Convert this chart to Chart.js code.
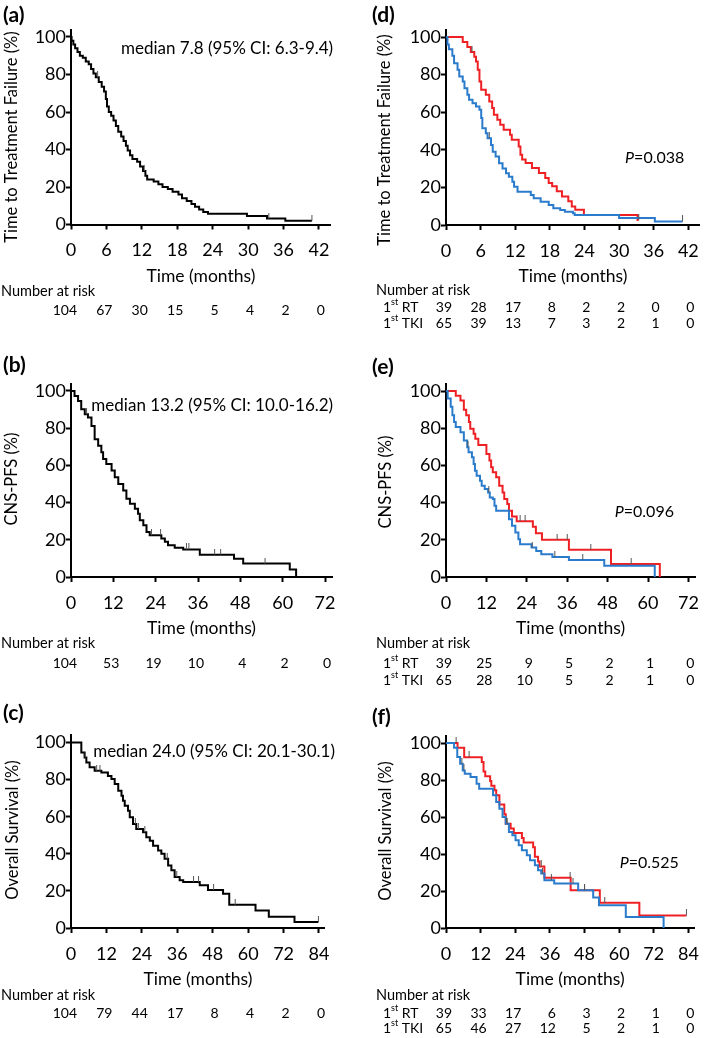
<!DOCTYPE html>
<html>
<head>
<meta charset="utf-8">
<script src="https://cdn.jsdelivr.net/npm/chart.js@4.4.1/dist/chart.umd.min.js"></script>
<style>
  body { margin: 0; background: #fff; width: 709px; height: 1038px; position: relative; overflow: hidden; }
  .panel { position: absolute; }
</style>
</head>
<body>
<div class="panel" style="left:0;top:0"><canvas id="pa" width="355" height="335"></canvas></div>
<div class="panel" style="left:355px;top:0"><canvas id="pd" width="354" height="335"></canvas></div>
<div class="panel" style="left:0;top:335px"><canvas id="pb" width="355" height="350"></canvas></div>
<div class="panel" style="left:355px;top:335px"><canvas id="pe" width="354" height="350"></canvas></div>
<div class="panel" style="left:0;top:685px"><canvas id="pc" width="355" height="353"></canvas></div>
<div class="panel" style="left:355px;top:685px"><canvas id="pf" width="354" height="353"></canvas></div>
<script>
const RED = "#ee2024";
const BLUE = "#2a7bcb";

const yTicks = [0, 20, 40, 60, 80, 100];
const ticks42 = [0, 6, 12, 18, 24, 30, 36, 42];
const ticks72 = [0, 12, 24, 36, 48, 60, 72];
const ticks84 = [0, 12, 24, 36, 48, 60, 72, 84];

// (a) time to treatment failure, all patients
const ttfTime = [0, 0.1, 0.4, 0.7, 1.1, 1.5, 2.0, 2.5, 3.0, 3.4, 3.8, 4.2, 4.7, 5.2, 5.6, 5.9, 6.1, 6.4, 6.8, 7.2, 7.6, 8.0, 8.5, 8.9, 9.3, 9.6, 10.0, 10.4, 11.2, 11.7, 12.2, 12.6, 12.9, 14.0, 14.8, 15.5, 16.4, 17.2, 18.2, 18.8, 19.6, 20.4, 21.0, 21.7, 22.4, 23.2, 29.8, 33.2, 36.3, 40.8];
const ttfSurv = [100, 98, 96, 94, 92, 90, 89, 87, 85.5, 83, 80.5, 78.5, 76, 73.5, 71, 67, 63, 60, 58, 55.5, 52.5, 49.5, 47, 44.5, 42, 39.5, 37, 35, 33.5, 31, 28.5, 26, 24, 23, 21.5, 20, 19, 17.5, 16, 14, 12.5, 11, 9.5, 8, 6.7, 5.7, 4.5, 3.2, 2, 2];
const ttfCensTime = [4.5, 12.4, 33.5, 40.8];
const ttfCensSurv = [78.5, 28.5, 3.2, 2];
const ttfRisk = [104, 67, 30, 15, 5, 4, 2, 0];

// (d) time to treatment failure by first treatment
const ttfRtTime = [0, 2.9, 3.7, 4.3, 4.9, 5.2, 5.5, 5.8, 6.1, 6.9, 7.5, 8.0, 8.3, 8.9, 9.4, 10.0, 11.1, 11.4, 12.6, 12.9, 13.2, 13.8, 14.9, 16.1, 17.2, 17.8, 18.4, 19.2, 20.1, 21.2, 21.8, 22.4, 23.9, 33.2, 33.4];
const ttfRtSurv = [100, 97.4, 94.7, 92, 89.5, 87, 82.6, 76.4, 71.9, 69.3, 65.7, 62.2, 58.6, 56, 53.3, 50.7, 48, 45.4, 41.8, 37.4, 34.8, 33, 30.3, 27.7, 25, 22.3, 20.6, 17.9, 15.2, 12.6, 9.9, 8.1, 5.3, 2.6, 2.6];
const ttfTkiTime = [0, 0.26, 0.5, 1.1, 1.4, 2.0, 2.3, 2.9, 3.2, 3.7, 4.0, 4.6, 5.2, 5.8, 6.1, 6.3, 6.9, 7.2, 7.8, 8.1, 8.6, 9.2, 9.8, 10.4, 10.9, 11.5, 11.8, 12.4, 14.7, 15.2, 16.4, 17.8, 18.6, 19.8, 20.6, 22.0, 22.3, 30.0, 36.2, 41.0];
const ttfTkiSurv = [100, 96, 93.5, 90, 86, 82.6, 79, 76.4, 72.8, 69.3, 66.6, 64.8, 63, 61.3, 56.9, 51.5, 48.8, 46.2, 42.6, 39, 36.4, 32.8, 30.1, 27.5, 25.7, 23, 20.4, 17.7, 15.9, 14.2, 12.4, 10.6, 8.9, 8, 7.1, 6.2, 5.3, 3.7, 1.9, 1.9];
const ttfRtCensTime = [4.5, 33.4];
const ttfRtCensSurv = [92, 2.6];
const ttfTkiCensTime = [7.5, 41.0];
const ttfTkiCensSurv = [46.2, 1.9];
const ttfRtRisk = [39, 28, 17, 8, 2, 2, 0, 0];
const ttfTkiRisk = [65, 39, 13, 7, 3, 2, 1, 0];

// (b) CNS-PFS, all patients
const pfsTime = [0, 1.0, 2.0, 2.9, 3.9, 4.8, 5.8, 6.7, 7.7, 8.6, 9.1, 10.0, 11.5, 12.4, 13.4, 14.8, 15.7, 16.7, 18.1, 19.0, 19.5, 20.5, 21.4, 22.3, 25.6, 26.6, 27.5, 29.4, 31.8, 36.5, 46.2, 48.8, 62.0, 63.8];
const pfsSurv = [100, 97.3, 94.6, 90.2, 87.5, 85.7, 81.2, 74, 70.5, 67, 63.4, 60.7, 57.2, 53.6, 50, 46.5, 42, 39.4, 36.7, 34, 30.5, 27.8, 24.2, 22.5, 20.7, 18.9, 17.1, 15.7, 14.8, 12, 9.8, 7.2, 4, 0];
const pfsCensTime = [4.4, 22.8, 25.4, 32.7, 33.4, 40.7, 42.4, 55.0];
const pfsCensSurv = [87.5, 22.5, 22.5, 14.8, 14.8, 12, 12, 7.2];
const pfsRisk = [104, 53, 19, 10, 4, 2, 0];

// (e) CNS-PFS by first treatment
const pfsRtTime = [0, 2.9, 4.3, 5.3, 6.0, 6.8, 7.2, 8.2, 8.7, 9.6, 12.0, 12.9, 13.4, 13.9, 14.9, 15.8, 16.8, 17.3, 18.2, 18.7, 19.6, 21.0, 25.8, 26.7, 28.5, 36.5, 49.0, 63.5];
const pfsRtSurv = [100, 97.4, 94.9, 90, 87, 83.3, 79.7, 77, 74.3, 71, 66.2, 62.6, 59, 56.3, 53.6, 49.1, 45.5, 41.9, 39.2, 35.6, 32.5, 30, 27, 23.5, 20, 14.7, 7, 0];
const pfsTkiTime = [0, 0.5, 1.4, 1.9, 2.4, 2.9, 4.3, 5.3, 6.3, 6.7, 7.7, 8.2, 8.6, 9.1, 10.1, 10.6, 11.5, 12.5, 13.0, 13.9, 14.4, 14.9, 18.7, 19.6, 20.6, 21.5, 22.0, 25.4, 26.8, 28.3, 31.6, 36.5, 47.0, 62.0];
const pfsTkiSurv = [100, 96, 91.5, 87, 83.3, 80.6, 77.9, 73.4, 69.8, 67.1, 64.4, 60.8, 57.2, 54.5, 51.8, 49.1, 47.3, 45.5, 42.8, 41.9, 38.3, 35.6, 31.1, 27.5, 23.9, 20.3, 17.6, 15.8, 14, 12.2, 10.8, 9.2, 6, 0];
const pfsRtCensTime = [22.0, 23.5, 33.0, 36.0, 43.0, 55.0];
const pfsRtCensSurv = [30, 30, 20, 20, 14.7, 7];
const pfsTkiCensTime = [6.5, 12.7, 25.6, 32.3, 40.6];
const pfsTkiCensSurv = [69.8, 45.5, 15.8, 10.8, 9.2];
const pfsRtRisk = [39, 25, 9, 5, 2, 1, 0];
const pfsTkiRisk = [65, 28, 10, 5, 2, 1, 0];

// (c) overall survival, all patients
const osTime = [0, 3.5, 4.6, 5.2, 6.3, 8.0, 10.3, 12.5, 13.7, 14.8, 16.0, 17.1, 17.6, 18.2, 19.3, 19.9, 21.0, 22.1, 24.4, 25.5, 26.7, 27.8, 29.5, 30.6, 31.7, 32.9, 34.0, 35.1, 36.8, 38.0, 43.6, 46.4, 51.5, 53.6, 62.5, 67.0, 75.7, 83.8];
const osSurv = [100, 94.6, 91.9, 89.2, 86.6, 84.8, 83.9, 82, 80.3, 77.6, 74, 71.3, 68.6, 65.9, 63.2, 59.7, 56.1, 53.4, 51.6, 48.9, 47.1, 44.4, 41.8, 40, 37.3, 33.7, 31.1, 27.5, 25.7, 24.8, 23, 20.5, 18.5, 12.5, 9.5, 6, 3.2, 3.2];
const osCensTime = [4.8, 8.7, 9.8, 21.8, 22.8, 25.0, 32.6, 35.8, 41.5, 43.2, 48.3, 55.6, 83.8];
const osCensSurv = [91.9, 84.8, 84.8, 56.1, 53.4, 51.6, 37.3, 27.5, 24.8, 24.8, 20.5, 12.5, 3.2];
const osRisk = [104, 79, 44, 17, 8, 4, 2, 0];

// (f) overall survival by first treatment
const osRtTime = [0, 4.0, 6.3, 12.4, 13.0, 13.6, 15.3, 15.7, 16.8, 17.4, 18.5, 20.2, 20.7, 22.4, 23.5, 26.3, 26.9, 30.2, 30.8, 31.9, 32.4, 34.1, 43.2, 53.3, 67.0, 83.3];
const osRtSurv = [100, 97.4, 92.3, 89.7, 84.6, 82, 79.5, 76.9, 74.4, 71.8, 66.7, 61.5, 56.4, 53.8, 51.3, 48.7, 46.2, 43.6, 38.5, 35.9, 33.3, 27.2, 20.4, 13.6, 6.8, 6.8];
const osTkiTime = [0, 2.8, 3.9, 4.9, 5.8, 6.5, 8.5, 10.6, 11.5, 16.3, 17.4, 18.5, 19.6, 20.7, 21.8, 23.0, 24.1, 25.2, 26.3, 28.0, 29.1, 30.8, 31.9, 33.0, 34.1, 37.5, 45.8, 51.0, 53.0, 62.3, 75.4];
const osTkiSurv = [100, 97.5, 92.4, 88.8, 85.2, 83.4, 81.6, 78, 75.3, 71.7, 68.1, 64.5, 60, 56.4, 51.9, 50.1, 47.4, 44.7, 42, 39.3, 36.6, 33.9, 31.2, 29.4, 25.8, 24, 20.4, 16.5, 12.3, 6, 0];
const osRtCensTime = [3.5, 8.0, 21.0, 33.0, 43.0, 48.0, 55.0, 83.3];
const osRtCensSurv = [100, 92.3, 56.4, 33.3, 27.2, 20.4, 13.6, 6.8];
const osTkiCensTime = [5.5, 6.2, 21.2, 33.4, 36.5, 44.0, 48.0];
const osTkiCensSurv = [88.8, 85.2, 56.4, 29.4, 25.8, 24, 20.4];
const osRtRisk = [39, 33, 17, 6, 3, 2, 1, 0];
const osTkiRisk = [65, 46, 27, 12, 5, 2, 1, 0];

const TTF_TITLE = "Time to Treatment Failure (%)";
const PFS_TITLE = "CNS-PFS (%)";
const OS_TITLE = "Overall Survival (%)";

Chart.defaults.font.family = "Lato";
Chart.defaults.color = "#000";

// censor mark: short vertical stroke sitting on top of the curve
const censorMark = document.createElement("canvas");
censorMark.width = 3;
censorMark.height = 12;
const cm = censorMark.getContext("2d");
cm.fillStyle = "#555";
cm.fillRect(1, 0, 1, 6);

function toPoints(ts, ss) {
  return ts.map((t, i) => ({ x: t, y: ss[i] }));
}

function textPlugin(p) {
  return {
    id: "panelText",
    afterDraw(chart) {
      const ctx = chart.ctx;
      const xs = chart.scales.x;
      const ys = chart.scales.y;
      const base = chart.chartArea.bottom;
      ctx.save();
      ctx.fillStyle = "#000";
      ctx.textBaseline = "middle";

      ctx.font = "bold 21px Lato";
      ctx.textAlign = "left";
      ctx.fillText(p.letter, p.letterX, p.letterY);

      // y axis title
      ctx.save();
      ctx.translate(p.yTitleX, p.yTitleY);
      ctx.rotate(-Math.PI / 2);
      ctx.font = "16.5px Lato";
      ctx.textAlign = "center";
      ctx.fillText(p.yTitle, 0, 0);
      ctx.restore();

      const nx = xs.getPixelForValue(p.noteX);
      const ny = ys.getPixelForValue(p.noteY);
      if (p.pValue) {
        ctx.font = "16px Lato";
        const rest = "=" + p.pValue;
        const wRest = ctx.measureText(rest).width;
        ctx.font = "italic 16px Lato";
        const wP = ctx.measureText("P").width;
        ctx.textAlign = "left";
        ctx.fillText("P", nx - wRest - wP, ny);
        ctx.font = "16px Lato";
        ctx.fillText(rest, nx - wRest, ny);
      } else {
        ctx.font = "17px Lato";
        ctx.textAlign = "right";
        ctx.fillText(p.note, nx, ny);
      }

      // number at risk table
      ctx.font = "14.5px Lato";
      ctx.textAlign = "left";
      ctx.fillText("Number at risk", p.nrX, base + p.rowY[0]);
      p.rows.forEach((row, i) => {
        const y = base + p.rowY[i + 1];
        if (row.label) {
          ctx.textAlign = "left";
          ctx.font = "14px Lato";
          ctx.fillText("1", p.labelX, y);
          let w = ctx.measureText("1").width;
          ctx.font = "9px Lato";
          ctx.fillText("st", p.labelX + w, y - 5);
          w += ctx.measureText("st").width;
          ctx.font = "14px Lato";
          ctx.fillText(" " + row.label, p.labelX + w, y);
        }
        ctx.font = "14px Lato";
        ctx.textAlign = "right";
        row.values.forEach((v, j) => {
          ctx.fillText(String(v), xs.getPixelForValue(p.xTicks[j]) + 6, y);
        });
      });
      ctx.restore();
    },
  };
}

function drawPanel(id, p) {
  const canvas = document.getElementById(id);
  const W = canvas.width;
  const H = canvas.height;
  const xAxisH = 62;
  const datasets = [];

  p.censors.forEach((c) => {
    datasets.push({
      data: toPoints(c.t, c.s),
      showLine: false,
      pointStyle: censorMark,
      pointRadius: 4,
    });
  });
  p.curves.forEach((c) => {
    datasets.push({
      data: toPoints(c.t, c.s),
      showLine: true,
      stepped: "before",
      borderColor: c.color,
      borderWidth: 2,
      pointRadius: 0,
      fill: false,
    });
  });

  new Chart(canvas, {
    type: "scatter",
    data: { datasets: datasets },
    options: {
      responsive: false,
      animation: false,
      devicePixelRatio: 1,
      layout: {
        padding: {
          left: p.padLeft,
          top: p.area.top,
          right: W - p.area.right,
          bottom: H - p.area.bottom - xAxisH,
        },
      },
      plugins: { legend: { display: false }, tooltip: { enabled: false } },
      scales: {
        x: {
          type: "linear",
          min: 0,
          max: p.xMax,
          afterBuildTicks: (ax) => { ax.ticks = p.xTicks.map((v) => ({ value: v })); },
          afterFit: (ax) => { ax.height = xAxisH; },
          border: { color: "#000", width: 2 },
          grid: { drawOnChartArea: false, drawTicks: true, tickLength: 5, tickWidth: 2, tickColor: "#000" },
          ticks: { color: "#000", font: { size: 18 }, padding: 10, maxRotation: 0, autoSkip: false },
          title: { display: true, text: "Time (months)", color: "#000", font: { size: 17.5 }, padding: 0 },
        },
        y: {
          type: "linear",
          min: 0,
          max: 104,
          afterBuildTicks: (ax) => { ax.ticks = yTicks.map((v) => ({ value: v })); },
          afterFit: (ax) => { ax.width = p.area.left - p.padLeft; },
          border: { color: "#000", width: 2 },
          grid: { drawOnChartArea: false, drawTicks: true, tickLength: 5, tickWidth: 2, tickColor: "#000" },
          ticks: { color: "#000", font: { size: 18 }, padding: 0 },
          title: { display: false },
        },
      },
    },
    plugins: [textPlugin(p)],
  });
}

drawPanel("pa", {
  area: { left: 71, right: 330.8, top: 29.5, bottom: 224.5 }, padLeft: 2,
  xMax: 44, xTicks: ticks42, yTitle: TTF_TITLE, yTitleX: 12, yTitleY: 137,
  curves: [{ t: ttfTime, s: ttfSurv, color: "#000" }],
  censors: [{ t: ttfCensTime, s: ttfCensSurv }],
  letter: "(a)", letterX: 3, letterY: 15,
  note: "median 7.8 (95% CI: 6.3-9.4)", noteX: 44.4, noteY: 94,
  nrX: 1, rowY: [66.5, 85.5], rows: [{ values: ttfRisk }],
});

drawPanel("pd", {
  area: { left: 91, right: 348.7, top: 29.5, bottom: 225 }, padLeft: 21,
  xMax: 44, xTicks: ticks42, yTitle: TTF_TITLE, yTitleX: 30, yTitleY: 140,
  curves: [{ t: ttfTkiTime, s: ttfTkiSurv, color: BLUE }, { t: ttfRtTime, s: ttfRtSurv, color: RED }],
  censors: [{ t: ttfRtCensTime, s: ttfRtCensSurv }, { t: ttfTkiCensTime, s: ttfTkiCensSurv }],
  letter: "(d)", letterX: 17, letterY: 15,
  pValue: "0.038", noteX: 41.3, noteY: 35.6,
  nrX: 21, labelX: 28, rowY: [65, 82, 98],
  rows: [{ label: "RT", values: ttfRtRisk }, { label: "TKI", values: ttfTkiRisk }],
});

drawPanel("pb", {
  area: { left: 71, right: 332.1, top: 48.5, bottom: 242 }, padLeft: 2,
  xMax: 74, xTicks: ticks72, yTitle: PFS_TITLE, yTitleX: 12, yTitleY: 144,
  curves: [{ t: pfsTime, s: pfsSurv, color: "#000" }],
  censors: [{ t: pfsCensTime, s: pfsCensSurv }],
  letter: "(b)", letterX: 3, letterY: 30,
  note: "median 13.2 (95% CI: 10.0-16.2)", noteX: 74.3, noteY: 92,
  nrX: 1, rowY: [66, 86], rows: [{ values: pfsRisk }],
});

drawPanel("pe", {
  area: { left: 91, right: 350, top: 48.6, bottom: 242 }, padLeft: 21,
  xMax: 74, xTicks: ticks72, yTitle: PFS_TITLE, yTitleX: 31, yTitleY: 147,
  curves: [{ t: pfsTkiTime, s: pfsTkiSurv, color: BLUE }, { t: pfsRtTime, s: pfsRtSurv, color: RED }],
  censors: [{ t: pfsRtCensTime, s: pfsRtCensSurv }, { t: pfsTkiCensTime, s: pfsTkiCensSurv }],
  letter: "(e)", letterX: 17, letterY: 32,
  pValue: "0.096", noteX: 67.7, noteY: 35,
  nrX: 21, labelX: 28, rowY: [66, 86, 103],
  rows: [{ label: "RT", values: pfsRtRisk }, { label: "TKI", values: pfsTkiRisk }],
});

drawPanel("pc", {
  area: { left: 71, right: 324.9, top: 50.1, bottom: 243 }, padLeft: 2,
  xMax: 86, xTicks: ticks84, yTitle: OS_TITLE, yTitleX: 12.5, yTitleY: 145,
  curves: [{ t: osTime, s: osSurv, color: "#000" }],
  censors: [{ t: osCensTime, s: osCensSurv }],
  letter: "(c)", letterX: 3, letterY: 28,
  note: "median 24.0 (95% CI: 20.1-30.1)", noteX: 89.4, noteY: 95,
  nrX: 1, rowY: [67, 85], rows: [{ values: osRisk }],
});

drawPanel("pf", {
  area: { left: 91, right: 348, top: 50.6, bottom: 243 }, padLeft: 21,
  xMax: 86, xTicks: ticks84, yTitle: OS_TITLE, yTitleX: 31, yTitleY: 146,
  curves: [{ t: osTkiTime, s: osTkiSurv, color: BLUE }, { t: osRtTime, s: osRtSurv, color: RED }],
  censors: [{ t: osRtCensTime, s: osRtCensSurv }, { t: osTkiCensTime, s: osTkiCensSurv }],
  letter: "(f)", letterX: 17, letterY: 32,
  pValue: "0.525", noteX: 80.7, noteY: 35,
  nrX: 21, labelX: 28, rowY: [67, 85, 100],
  rows: [{ label: "RT", values: osRtRisk }, { label: "TKI", values: osTkiRisk }],
});
</script>
</body>
</html>
